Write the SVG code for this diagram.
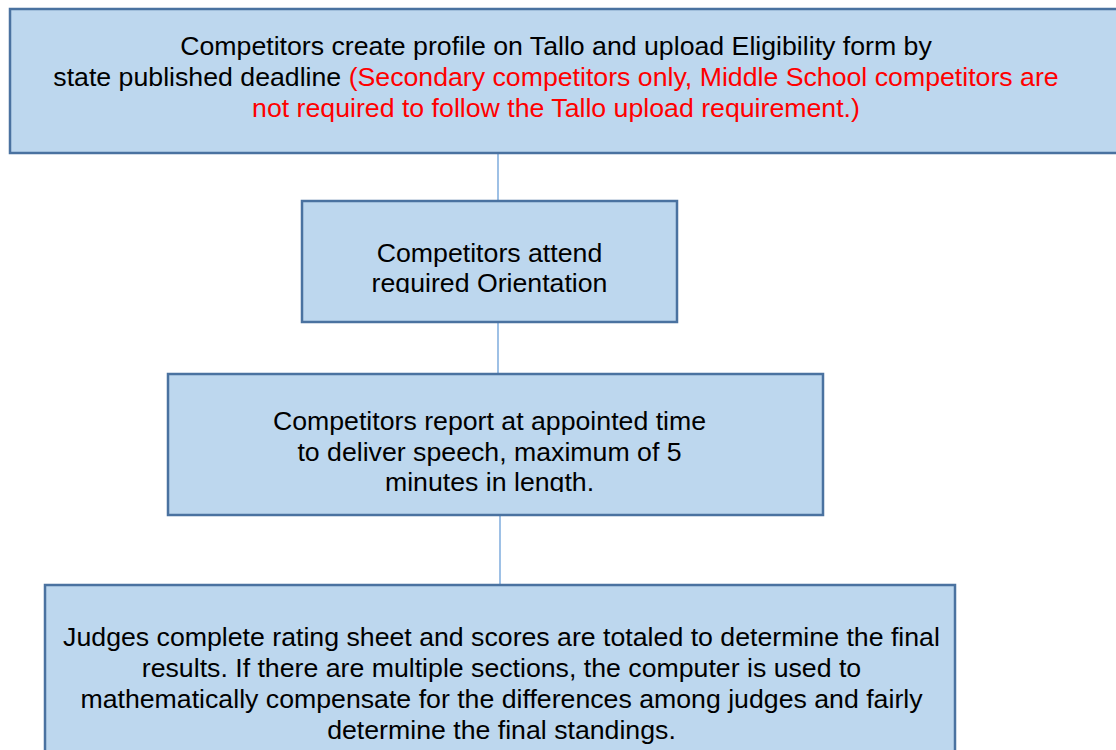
<svg xmlns="http://www.w3.org/2000/svg" width="1116" height="750" viewBox="0 0 1116 750">
<style>
.box{fill:#bdd7ee;stroke:#4a72a0;stroke-width:2.5}
.t{font-family:"Liberation Sans",Arial,sans-serif;font-size:26.7px;fill:#000;text-anchor:middle}
.red{fill:#ff0000}
.conn{stroke:#6a9fd8;stroke-width:1.3;fill:none}
</style>
<defs>
<clipPath id="c2"><rect x="302" y="201" width="375" height="92"/></clipPath>
<clipPath id="c3"><rect x="168" y="374" width="655" height="118"/></clipPath>
</defs>
<rect width="1116" height="750" fill="#fff"/>
<g id="connectors">
<line class="conn" x1="498" y1="150" x2="498" y2="201"/>
<line class="conn" x1="498" y1="322" x2="498" y2="374"/>
<line class="conn" x1="500" y1="515" x2="500" y2="585"/>
</g>
<g id="n1">
<rect class="box" x="10" y="9" width="1120" height="144"/>
<text class="t" x="556" y="55">Competitors create profile on Tallo and upload Eligibility form by</text>
<text class="t" x="556" y="86">state published deadline <tspan class="red">(Secondary competitors only, Middle School competitors are</tspan></text>
<text class="t red" x="556" y="117">not required to follow the Tallo upload requirement.)</text>
</g>
<g id="n2">
<rect class="box" x="302" y="201" width="375" height="121"/>
<g clip-path="url(#c2)">
<text class="t" x="489.5" y="262">Competitors attend</text>
<text class="t" x="489.5" y="292">required Orientation</text>
</g>
</g>
<g id="n3">
<rect class="box" x="168" y="374" width="655" height="141"/>
<g clip-path="url(#c3)">
<text class="t" x="489.5" y="430">Competitors report at appointed time</text>
<text class="t" x="489.5" y="461">to deliver speech, maximum of 5</text>
<text class="t" x="489.5" y="491">minutes in length.</text>
</g>
</g>
<g id="n4">
<rect class="box" x="45" y="585" width="910" height="180"/>
<text class="t" x="501.5" y="646">Judges complete rating sheet and scores are totaled to determine the final</text>
<text class="t" x="501.5" y="677">results. If there are multiple sections, the computer is used to</text>
<text class="t" x="501.5" y="708">mathematically compensate for the differences among judges and fairly</text>
<text class="t" x="501.5" y="739">determine the final standings.</text>
</g>
</svg>
